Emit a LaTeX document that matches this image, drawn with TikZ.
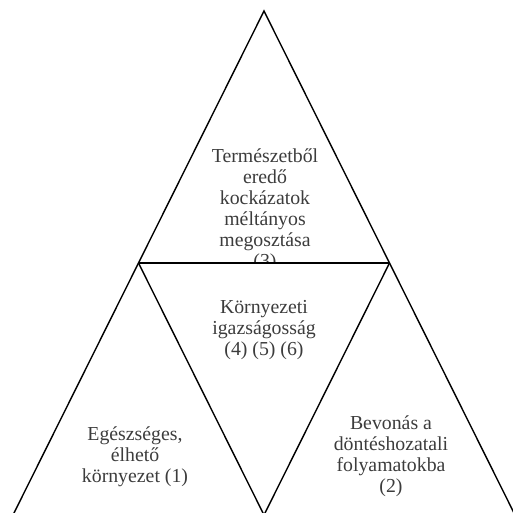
\documentclass[tikz,border=0pt]{standalone}
\usepackage{fontspec}
\setmainfont{Liberation Serif}
\definecolor{txtgray}{HTML}{3c3c3c}
\begin{document}
\begin{tikzpicture}[x=1pt,y=-1pt,
  edge/.style={draw=black,line width=1.4pt,line join=miter},
  label/.style={align=center,text=txtgray,inner sep=0pt,font=\fontsize{19.8}{21}\selectfont}]
\useasboundingbox (0,0) rectangle (512,513);
\coordinate (A) at (264,11);
\coordinate (BL) at (13,515);
\coordinate (BR) at (515,515);
\coordinate (ML) at (138.5,263);
\coordinate (MR) at (389.5,263);
\coordinate (MB) at (264,515);
\begin{scope}
\clip (0,0) rectangle (512,262.5);
\node[label] (top) at (265,210) {Természetből\\eredő\\kockázatok\\méltányos\\megosztása\\(3)};
\end{scope}
\node[label] (mid) at (264,330) {Környezeti\\igazságosság\\(4) (5) (6)};
\node[label] (left) at (135,457) {Egészséges,\\élhető\\környezet (1)};
\node[label] (right) at (391,456) {Bevonás a\\döntéshozatali\\folyamatokba\\(2)};
\draw[edge] (BL) -- (A) -- (BR);
\draw[edge] (ML) -- (MR);
\draw[edge] (ML) -- (MB) -- (MR);
\end{tikzpicture}
\end{document}
